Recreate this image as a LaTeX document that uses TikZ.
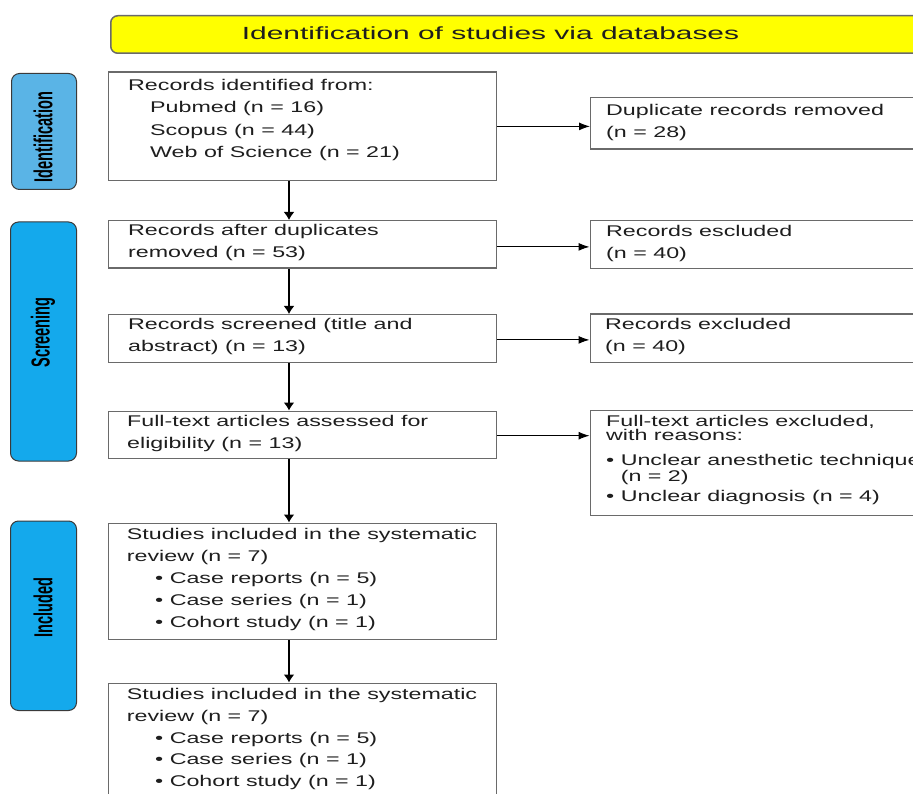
\documentclass[tikz,border=0pt]{standalone}
\usepackage{fontspec}
\setmainfont[FakeStretch=1.5]{Liberation Sans}
\newfontfamily\titlefont[FakeStretch=1.7]{Liberation Sans}
\newfontfamily\labfont[FakeStretch=0.56]{Liberation Sans}
\usetikzlibrary{arrows.meta}
\definecolor{boxgray}{HTML}{6A6A6A}
\definecolor{txtcol}{HTML}{1E1E1E}
\definecolor{labborder}{HTML}{3A3A3A}
\definecolor{idblue}{HTML}{5AB4E6}
\definecolor{scblue}{HTML}{14A9EC}
\definecolor{ttlyellow}{HTML}{FFFF00}
\tikzset{
  box/.style={draw=boxgray, line width=1.3pt, fill=white, anchor=north west, inner sep=0pt, rectangle},
  lab/.style={draw=labborder, line width=1pt, rounded corners=8pt, anchor=north west, inner sep=0pt, rectangle},
  txt/.style={anchor=base west, inner sep=0pt, align=left, text=txtcol, font=\fontsize{15.5}{21.8}\selectfont},
  labtxt/.style={rotate=90, inner sep=0pt, text=black, font=\labfont\bfseries\fontsize{26}{30}\selectfont},
  harr/.style={line width=1pt, draw=black, -{Latex[length=11pt,width=8pt]}},
  varr/.style={line width=1.5pt, draw=black, -{Latex[length=8pt,width=11pt]}},
}
\begin{document}
\begin{tikzpicture}[x=1pt,y=-1pt]
\path[use as bounding box, clip] (0,0) rectangle (913,794);
\fill[white] (0,0) rectangle (913,794);

% title
\node[draw=boxgray, line width=1.5pt, fill=ttlyellow, rounded corners=7pt, anchor=north west,
      inner sep=0pt, minimum width=900pt, minimum height=37.5pt] (title) at (110,15) {};
\node[anchor=base, inner sep=0pt, text=txtcol, font=\titlefont\fontsize{17.6}{20}\selectfont] (ttext) at (490.5,39.3) {Identification of studies via databases};

% phase labels
\node[lab, fill=idblue, minimum width=65pt, minimum height=116pt] (lid) at (11,73) {};
\node[lab, fill=scblue, minimum width=66pt, minimum height=239pt] (lsc) at (10,221.5) {};
\node[lab, fill=scblue, minimum width=66pt, minimum height=189.5pt] (lin) at (10,520.5) {};
\node[labtxt] (lidt) at (43,137) {Identification};
\node[labtxt] (lsct) at (43,332.5) {Screening};
\node[labtxt] (lint) at (43,607.5) {Included};

% main column boxes
\node[box, minimum width=388pt, minimum height=108.5pt] (b1) at (107.5,71.5) {};
\node[box, minimum width=388pt, minimum height=47.5pt] (b2) at (107.5,220) {};
\node[box, minimum width=388pt, minimum height=47.5pt] (b3) at (107.5,314) {};
\node[box, minimum width=388pt, minimum height=47.5pt] (b4) at (107.5,410.5) {};
\node[box, minimum width=388pt, minimum height=116.5pt] (b5) at (107.5,522.5) {};
\node[box, minimum width=388pt, minimum height=140pt] (b6) at (107.5,682.5) {};

% right column boxes
\node[box, minimum width=340pt, minimum height=51.5pt] (r1) at (590,97) {};
\node[box, minimum width=340pt, minimum height=48pt] (r2) at (589.5,220) {};
\node[box, minimum width=340pt, minimum height=48.5pt] (r3) at (589.5,313.5) {};
\node[box, minimum width=340pt, minimum height=105pt] (r4) at (589.5,410) {};

% texts main column (base anchor = baseline of last line)
\node[txt] (t1) at (128,90.7) {Records identified from:};
\node[txt, font=\fontsize{15.5}{22.2}\selectfont] (t1a) at (150,157.3) {Pubmed (n = 16)\\Scopus (n = 44)\\Web of Science (n = 21)};
\node[txt] (t2) at (128,257.3) {Records after duplicates\\removed (n = 53)};
\node[txt] (t3) at (128,351.7) {Records screened (title and\\abstract) (n = 13)};
\node[txt] (t4) at (127,448.3) {Full-text articles assessed for\\eligibility (n = 13)};
\node[txt] (t5) at (126.7,561) {Studies included in the systematic\\review (n = 7)};
\node[txt] (t5a) at (155,627.3) {• Case reports (n = 5)\\• Case series (n = 1)\\• Cohort study (n = 1)};
\node[txt] (t6) at (126.7,721) {Studies included in the systematic\\review (n = 7)};
\node[txt] (t6a) at (155,786.7) {• Case reports (n = 5)\\• Case series (n = 1)\\• Cohort study (n = 1)};

% texts right column
\node[txt] (u1) at (606,137.3) {Duplicate records removed\\(n = 28)};
\node[txt] (u2) at (606,258.3) {Records escluded\\(n = 40)};
\node[txt] (u3) at (605,351.7) {Records excluded\\(n = 40)};
\node[txt, font=\fontsize{15.5}{16}\selectfont] (u4) at (606,501.7) {Full-text articles excluded,\\[-2pt]with reasons:\\[9pt]• Unclear anesthetic technique\\\hphantom{• }(n = 2)\\[4pt]• Unclear diagnosis (n = 4)};

% connectors
\coordinate (ax) at (289,0);
\draw[varr] (b1.south -| ax) -- (b2.north -| ax);
\draw[varr] (b2.south -| ax) -- (b3.north -| ax);
\draw[varr] (b3.south -| ax) -- (b4.north -| ax);
\draw[varr] (b4.south -| ax) -- (b5.north -| ax);
\draw[varr] (b5.south -| ax) -- (b6.north -| ax);
\draw[harr] (b1.east) -- (b1.east -| r1.west);
\draw[harr] ([yshift=-2.5pt]b2.east) -- ([yshift=-2.5pt]b2.east -| r2.west);
\draw[harr] ([yshift=-1.5pt]b3.east) -- ([yshift=-1.5pt]b3.east -| r3.west);
\draw[harr] ([yshift=-0.8pt]b4.east) -- ([yshift=-0.8pt]b4.east -| r4.west);
\end{tikzpicture}
\end{document}
